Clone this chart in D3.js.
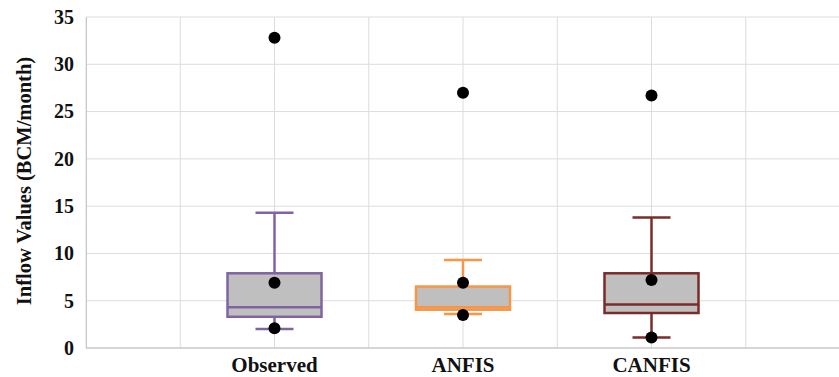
<!DOCTYPE html>
<html>
<head>
<meta charset="utf-8">
<script src="https://cdn.jsdelivr.net/npm/d3@7"></script>
<style>
  body { margin: 0; background: #fff; }
  text { font-family: "Liberation Serif", "Times New Roman", serif; font-weight: bold; }
</style>
</head>
<body>
<div id="container"></div>
<script>
///size
let w = 839,
h = 377;
let padL = 86, padR = 840, padT = 17, padB = 348;

///data
let models = ["Observed", "ANFIS", "CANFIS"];
let whiskerLow = [2.0, 3.6, 1.1];
let q1 = [3.3, 4.05, 3.7];
let median = [4.3, 4.3, 4.6];
let q3 = [7.9, 6.5, 7.9];
let whiskerHigh = [14.3, 9.3, 13.8];
let pointsMax = [32.8, 27.0, 26.7];
let pointsMean = [6.9, 6.9, 7.2];
let pointsMin = [2.1, 3.5, 1.1];
let yTicks = [0, 5, 10, 15, 20, 25, 30, 35];
let colors = ["#8064a2", "#f79646", "#7b2c2a"];

let svg = d3.select("#container").
append("svg").
attr("width", w).
attr("height", h);

///scales - categories sit on every second grid column
let xScale = d3.scaleLinear().
domain([0, 8]).
range([padL, padR]);
let yScale = d3.scaleLinear().
domain([0, 35]).
range([padB, padT]);
let xPos = i => xScale(2 + i * 2);

///grid
svg.append("g").
selectAll("line").
data(d3.range(0, 9)).
enter().
append("line").
attr("x1", d => xScale(d)).
attr("x2", d => xScale(d)).
attr("y1", yScale(35)).
attr("y2", yScale(0)).
style("stroke", "#dcdcdc").
style("stroke-width", 1);

svg.append("g").
selectAll("line").
data(yTicks).
enter().
append("line").
attr("x1", xScale(0)).
attr("x2", xScale(8)).
attr("y1", d => yScale(d)).
attr("y2", d => yScale(d)).
style("stroke", d => d == 0 ? "#c8c8c8" : "#dcdcdc").
style("stroke-width", d => d == 0 ? 1.5 : 1);

///y axis
let yAxis = d3.axisLeft(yScale).
tickValues(yTicks).
tickSize(0).
tickPadding(12);
let yAxisGroup = svg.append("g").
attr("transform", "translate(" + padL + ",0)").
call(yAxis);
yAxisGroup.select(".domain").style("stroke", "#c8c8c8");
yAxisGroup.selectAll("text").
style("font-size", "20px").
style("fill", "#111");

svg.append("text").
attr("transform", "translate(31,181) rotate(-90)").
attr("text-anchor", "middle").
style("font-size", "20.5px").
style("fill", "#111").
text("Inflow Values (BCM/month)");

///x labels
svg.append("g").
selectAll("text").
data(models).
enter().
append("text").
attr("x", (d, i) => xPos(i)).
attr("y", 372).
attr("text-anchor", "middle").
style("font-size", "21px").
style("fill", "#111").
text(d => d);

///boxes
let boxW = 94, capW = 38;
let boxes = svg.selectAll(".box").
data(models).
enter().
append("g").
attr("class", "box");

boxes.append("line").
attr("x1", (d, i) => xPos(i)).
attr("x2", (d, i) => xPos(i)).
attr("y1", (d, i) => yScale(whiskerHigh[i])).
attr("y2", (d, i) => yScale(q3[i])).
style("stroke", (d, i) => colors[i]).
style("stroke-width", 2.5);

boxes.append("line").
attr("x1", (d, i) => xPos(i)).
attr("x2", (d, i) => xPos(i)).
attr("y1", (d, i) => yScale(q1[i])).
attr("y2", (d, i) => yScale(whiskerLow[i])).
style("stroke", (d, i) => colors[i]).
style("stroke-width", 2.5);

boxes.selectAll(".cap").
data((d, i) => [{ v: whiskerHigh[i], i: i }, { v: whiskerLow[i], i: i }]).
enter().
append("line").
attr("x1", d => xPos(d.i) - capW / 2).
attr("x2", d => xPos(d.i) + capW / 2).
attr("y1", d => yScale(d.v)).
attr("y2", d => yScale(d.v)).
style("stroke", d => colors[d.i]).
style("stroke-width", 2.5);

boxes.append("rect").
attr("x", (d, i) => xPos(i) - boxW / 2).
attr("y", (d, i) => yScale(q3[i])).
attr("width", boxW).
attr("height", (d, i) => yScale(q1[i]) - yScale(q3[i])).
style("fill", "#bfbfbf").
style("stroke", (d, i) => colors[i]).
style("stroke-width", 2.5);

boxes.append("line").
attr("x1", (d, i) => xPos(i) - boxW / 2).
attr("x2", (d, i) => xPos(i) + boxW / 2).
attr("y1", (d, i) => yScale(median[i])).
attr("y2", (d, i) => yScale(median[i])).
style("stroke", (d, i) => colors[i]).
style("stroke-width", 2.5);

///points
let pts = [];
models.forEach((m, i) => {
  pts.push({ i: i, v: pointsMax[i] });
  pts.push({ i: i, v: pointsMean[i] });
  pts.push({ i: i, v: pointsMin[i] });
});
svg.append("g").
selectAll("circle").
data(pts).
enter().
append("circle").
attr("cx", d => xPos(d.i)).
attr("cy", d => yScale(d.v)).
attr("r", 6).
style("fill", "#000");
</script>
</body>
</html>
